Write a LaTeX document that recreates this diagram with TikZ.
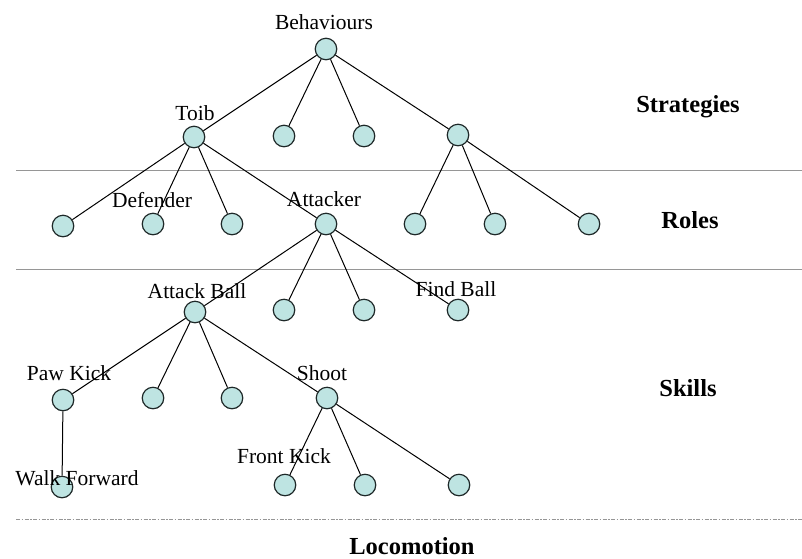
\documentclass[tikz,border=0pt]{standalone}
\usepackage{fontspec}
\setmainfont{Liberation Serif}
\definecolor{nodefill}{RGB}{190,228,226}
\definecolor{nodeline}{RGB}{30,40,40}
\definecolor{sepline}{RGB}{150,150,150}
\begin{document}
\begin{tikzpicture}[x=1pt,y=-1pt,
  dot/.style={circle,draw=nodeline,fill=nodefill,line width=1.2pt,minimum size=21.5pt,inner sep=0pt},
  lbl/.style={anchor=base,inner sep=0pt,font=\fontsize{21.5}{24}\selectfont},
  layer/.style={anchor=base,inner sep=0pt,font=\fontsize{24.5}{28}\selectfont\bfseries},
  edge/.style={draw=black,line width=1pt},
  sep/.style={draw=sepline,line width=0.9pt}]
\useasboundingbox (0,0) rectangle (802,558);
% separators
\coordinate (s1a) at (16,170); \coordinate (s1b) at (802,170);
\coordinate (s2a) at (16,269); \coordinate (s2b) at (802,269);
\coordinate (s3a) at (16,519); \coordinate (s3b) at (802,519);
\draw[sep] (s1a) -- (s1b);
\draw[sep] (s2a) -- (s2b);
\draw[sep,line width=0.8pt,dash pattern=on 4pt off 1.5pt on 1.5pt off 1.5pt] (s3a) -- (s3b);
% nodes
\node[dot] (root) at (326,49) {};
\node[dot] (toib) at (194,137) {};
\node[dot] (s2) at (284,136) {};
\node[dot] (s3) at (364,136) {};
\node[dot] (s4) at (458,135) {};
\node[dot] (r1) at (63,226) {};
\node[dot] (def) at (153,224) {};
\node[dot] (r3) at (232,224) {};
\node[dot] (att) at (326,224) {};
\node[dot] (r5) at (415,224) {};
\node[dot] (r6) at (495,224) {};
\node[dot] (r7) at (589,224) {};
\node[dot] (ab) at (195,312) {};
\node[dot] (k2) at (284,310) {};
\node[dot] (k3) at (364,310) {};
\node[dot] (fb) at (458,310) {};
\node[dot] (pk) at (63,400) {};
\node[dot] (k6) at (153,398) {};
\node[dot] (k7) at (232,398) {};
\node[dot] (sh) at (327,398) {};
\node[dot] (wf) at (62,487) {};
\node[dot] (fk) at (285,485) {};
\node[dot] (k10) at (365,485) {};
\node[dot] (k11) at (459,485) {};
% edges
\foreach \a/\b in {root/toib,root/s2,root/s3,root/s4,
  toib/r1,toib/def,toib/r3,toib/att,
  s4/r5,s4/r6,s4/r7,
  att/ab,att/k2,att/k3,att/fb,
  ab/pk,ab/k6,ab/k7,ab/sh,
  pk/wf,
  sh/fk,sh/k10,sh/k11}
  \draw[edge] (\a) -- (\b);
% labels
\node[lbl] (tBeh) at (324,29) {Behaviours};
\node[lbl] (tToib) at (195,120) {Toib};
\node[lbl] (tDef) at (152,207) {Defender};
\node[lbl] (tAtt) at (324,206) {Attacker};
\node[lbl] (tAB) at (197,298) {Attack Ball};
\node[lbl] (tFB) at (456,296) {Find Ball};
\node[lbl] (tPK) at (69,380) {Paw Kick};
\node[lbl] (tSh) at (322,380) {Shoot};
\node[lbl] (tFK) at (284,463) {Front Kick};
\node[lbl] (tWF) at (77,485) {Walk Forward};
\node[layer] (lStr) at (688,112) {Strategies};
\node[layer] (lRol) at (690,228) {Roles};
\node[layer] (lSki) at (688,396) {Skills};
\node[layer] (lLoc) at (412,554) {Locomotion};
\end{tikzpicture}
\end{document}
